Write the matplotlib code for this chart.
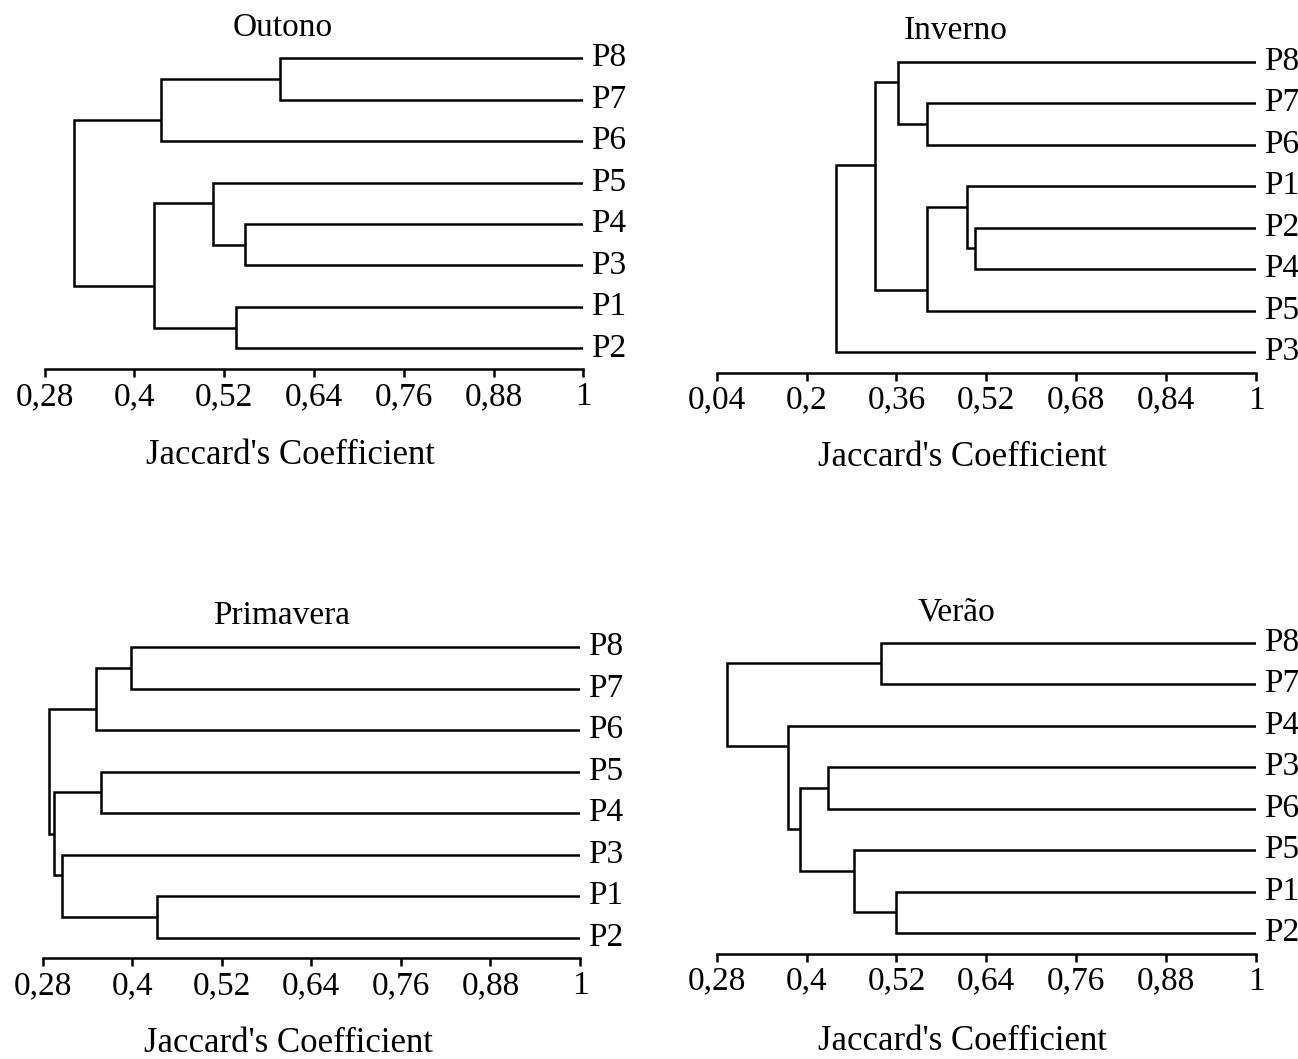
import matplotlib
matplotlib.use("Agg")
import matplotlib.pyplot as plt

plt.rcParams["font.family"] = ["Liberation Serif", "DejaVu Serif"]
plt.rcParams["font.size"] = 24

# leaf order (top to bottom) and merges: (upper cluster, lower cluster, similarity)
# a cluster is either a leaf name or the index of an earlier merge
outono_leaves = ["P8", "P7", "P6", "P5", "P4", "P3", "P1", "P2"]
outono_merges = [("P8", "P7", 0.595), (0, "P6", 0.435), ("P4", "P3", 0.548),
                 ("P5", 2, 0.505), ("P1", "P2", 0.536), (3, 4, 0.426), (1, 5, 0.319)]

inverno_leaves = ["P8", "P7", "P6", "P1", "P2", "P4", "P5", "P3"]
inverno_merges = [("P7", "P6", 0.414), ("P8", 0, 0.362), ("P2", "P4", 0.500),
                  ("P1", 2, 0.486), (3, "P5", 0.415), (1, 4, 0.322), (5, "P3", 0.253)]

primavera_leaves = ["P8", "P7", "P6", "P5", "P4", "P3", "P1", "P2"]
primavera_merges = [("P8", "P7", 0.399), (0, "P6", 0.351), ("P5", "P4", 0.359),
                    ("P1", "P2", 0.434), ("P3", 3, 0.306), (2, 4, 0.296), (1, 5, 0.289)]

verao_leaves = ["P8", "P7", "P4", "P3", "P6", "P5", "P1", "P2"]
verao_merges = [("P8", "P7", 0.500), ("P3", "P6", 0.429), ("P1", "P2", 0.520),
                ("P5", 2, 0.4635), (1, 3, 0.391), ("P4", 4, 0.375), (0, 5, 0.294)]

ticks_a = [0.28, 0.4, 0.52, 0.64, 0.76, 0.88, 1]
ticks_b = [0.04, 0.2, 0.36, 0.52, 0.68, 0.84, 1]

W, H = 1298, 1059
fig = plt.figure(figsize=(W / 100, H / 100), dpi=100)


def px_axes(left, right, top, bottom):
    return fig.add_axes([left / W, 1 - bottom / H, (right - left) / W, (bottom - top) / H])


def dendrogram(ax, leaves, merges, ticks, title, title_x, title_y, xlab_x, xlab_y):
    lw = 1.8
    # each cluster: (node x, node y, first leaf row, last leaf row)
    nodes = {name: (1.0, i, i, i) for i, name in enumerate(leaves)}
    for k, (a, b, h) in enumerate(merges):
        xa, ya, fa, la = nodes[a]
        xb, yb, fb, lb = nodes[b]
        ax.plot([xa, h, h, xb], [ya, ya, yb, yb], color="black", lw=lw,
                solid_joinstyle="miter", solid_capstyle="butt")
        nodes[k] = (h, la + 0.5, fa, lb)
    for i, name in enumerate(leaves):
        ax.annotate(name, (1.0, i), xytext=(5.5, 0), textcoords="offset points",
                    va="center", ha="left", fontsize=24, annotation_clip=False)
    ax.set_xlim(ticks[0], ticks[-1])
    ax.set_ylim(len(leaves) - 0.5, -0.5)
    ax.set_xticks(ticks)
    ax.set_xticklabels([("%g" % t).replace(".", ",") for t in ticks])
    ax.set_yticks([])
    for s in ["top", "right", "left"]:
        ax.spines[s].set_visible(False)
    ax.spines["bottom"].set_linewidth(lw)
    ax.tick_params(axis="x", direction="out", length=6, width=lw, pad=3, labelsize=24)
    fig.text(title_x / W, 1 - title_y / H, title, ha="center", va="center", fontsize=24)
    fig.text(xlab_x / W, 1 - xlab_y / H, "Jaccard's Coefficient", ha="center", va="center",
             fontsize=25)


ax1 = px_axes(44.6, 583.3, 37.5, 369)
dendrogram(ax1, outono_leaves, outono_merges, ticks_a, "Outono", 283, 28, 290, 455)

ax2 = px_axes(716.7, 1256, 41, 372.7)
dendrogram(ax2, inverno_leaves, inverno_merges, ticks_b, "Inverno", 956, 31, 962, 458)

ax3 = px_axes(42.5, 580, 626.5, 958.3)
dendrogram(ax3, primavera_leaves, primavera_merges, ticks_a, "Primavera", 282, 616, 288, 1043)

ax4 = px_axes(716.7, 1256, 622, 953.7)
dendrogram(ax4, verao_leaves, verao_merges, ticks_a, "Verão", 956, 612, 962, 1041)

fig.savefig("out.png", dpi=100)
